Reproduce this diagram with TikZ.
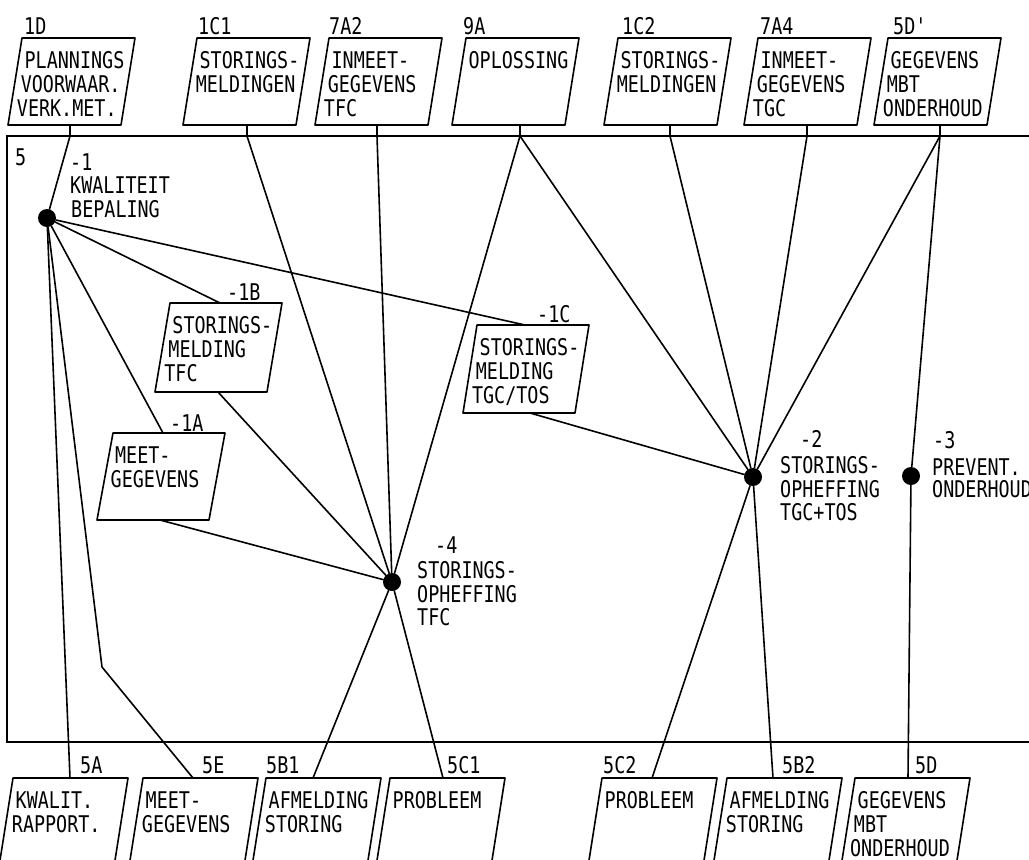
\documentclass[tikz,border=0pt]{standalone}
\usepackage{fontspec}
\newfontfamily\dotfont[FakeStretch=0.8]{DejaVu Sans Mono}
% parallelogram data box: #1 x of top-left corner, #2 y of top edge,
% #3 width, #4 height, #5 slant (top edge shifted right), #6 text lines
\newcommand\databox[6]{%
  \draw[boxline] (#1,#2) -- ++(#3,0) -- ++(-#5,#4) -- ++(-#3,0) -- cycle;
  \foreach \t [count=\i] in {#6} {
    \node[txt] at ({#1 - #5*(22+24*(\i-1))/#4 + 6}, {#2 + 30 + 24*(\i-1)}) {\t};
  }%
}
\begin{document}
\begin{tikzpicture}[x=1pt,y=-1pt,
  wire/.style={line width=1.6pt, line cap=round, line join=round},
  frameline/.style={line width=2.4pt},
  boxline/.style={line width=1.6pt, line join=round},
  dot/.style={circle, fill=black, minimum size=18pt, inner sep=0pt},
  txt/.style={font=\dotfont\fontsize{23}{24}\selectfont, inner sep=0pt, anchor=base west},
  block/.style={txt, align=left, anchor=north west, text depth=0pt},
]
\useasboundingbox (0,0) rectangle (1029,860);
\clip (0,0) rectangle (1029,860);

% ---- frame of diagram 5 ----
\draw[frameline] (1040,136) -- (7,136) -- (7,742) -- (1040,742);
\node[txt] (lab5) at (15,165) {5};

% ---- incoming data (top row) ----
\databox{22}{38}{113}{87}{14}{PLANNINGS,VOORWAAR.,VERK.MET.}
\databox{197}{38}{113}{87}{14}{STORINGS-,MELDINGEN}
\databox{329}{38}{113}{87}{14}{INMEET-,GEGEVENS,TFC}
\databox{466}{38}{113}{87}{14}{OPLOSSING}
\databox{618}{38}{113}{87}{14}{STORINGS-,MELDINGEN}
\databox{758}{38}{113}{87}{14}{INMEET-,GEGEVENS,TGC}
\databox{888}{38}{113}{87}{14}{GEGEVENS,MBT,ONDERHOUD}
\node[txt] (l1D)  at (24,34)  {1D};
\node[txt] (l1C1) at (198,34) {1C1};
\node[txt] (l7A2) at (329,34) {7A2};
\node[txt] (l9A)  at (463,34) {9A};
\node[txt] (l1C2) at (622,34) {1C2};
\node[txt] (l7A4) at (760,34) {7A4};
\node[txt] (l5Dp) at (893,34) {5D\textquotesingle};

% box bottoms and their stems to the frame
\foreach \n/\x in {1D/70, 1C1/247, 7A2/377, 9A/520, 1C2/670, 7A4/807, 5Dp/940} {
  \coordinate (a\n) at (\x,125);
  \coordinate (f\n) at (\x,136);
  \draw[wire] (a\n) -- (f\n);
}

% ---- outgoing data (bottom row) ----
\databox{13}{778}{115}{95}{15}{KWALIT.,RAPPORT.}
\databox{143}{778}{115}{95}{15}{MEET-,GEGEVENS}
\databox{266}{778}{115}{95}{15}{AFMELDING,STORING}
\databox{390}{778}{115}{95}{15}{PROBLEEM}
\databox{602}{778}{115}{95}{15}{PROBLEEM}
\databox{727}{778}{115}{95}{15}{AFMELDING,STORING}
\databox{855}{778}{115}{95}{15}{GEGEVENS,MBT,ONDERHOUD}
\node[txt] (l5A)  at (80,773)  {5A};
\node[txt] (l5E)  at (202,773) {5E};
\node[txt] (l5B1) at (266,773) {5B1};
\node[txt] (l5C1) at (447,773) {5C1};
\node[txt] (l5C2) at (603,773) {5C2};
\node[txt] (l5B2) at (782,773) {5B2};
\node[txt] (l5D)  at (915,773) {5D};
\foreach \n/\x in {5A/70, 5E/193, 5B1/313, 5C1/443, 5C2/652, 5B2/773, 5D/908}
  \coordinate (b\n) at (\x,778);
\coordinate (bend5E) at (102,667);

% ---- internal data stores ----
\databox{170}{303}{112}{89}{15}{STORINGS-,MELDING,TFC}
\databox{477}{325}{112}{88}{14}{STORINGS-,MELDING,TGC/TOS}
\databox{113}{433}{112}{87}{16}{MEET-,GEGEVENS}
\node[txt] (l1B) at (227,300) {-1B};
\node[txt] (l1Cb) at (537,322) {-1C};
\node[txt] (l1Ab) at (170,431) {-1A};
\coordinate (s1Bt) at (220,303);
\coordinate (s1Bb) at (218,392);
\coordinate (s1Ct) at (525,325);
\coordinate (s1Cb) at (530,413);
\coordinate (s1At) at (163,433);
\coordinate (s1Ab) at (160,520);

% ---- processes ----
\node[dot] (p1) at (47,218) {};
\node[dot] (p4) at (392,582) {};
\node[dot] (p2) at (753,477) {};
\node[dot] (p3) at (911,476) {};
\node[txt] (t1a) at (70,170) {-1};
\node[txt] (t1b) at (70,193) {KWALITEIT};
\node[txt] (t1c) at (71,217) {BEPALING};
\node[txt] (t4a) at (435,553) {-4};
\node[txt] (t4b) at (417,578) {STORINGS-};
\node[txt] (t4c) at (417,602) {OPHEFFING};
\node[txt] (t4d) at (417,625) {TFC};
\node[txt] (t2a) at (800,447) {-2};
\node[txt] (t2b) at (780,473) {STORINGS-};
\node[txt] (t2c) at (780,497) {OPHEFFING};
\node[txt] (t2d) at (780,520) {TGC+TOS};
\node[txt] (t3a) at (933,448) {-3};
\node[txt] (t3b) at (932,475) {PREVENT.};
\node[txt] (t3c) at (932,497) {ONDERHOUD};

% ---- data flows ----
\draw[wire] (f1D) -- (p1);
\draw[wire] (f1C1) -- (p4);
\draw[wire] (f7A2) -- (p4);
\draw[wire] (f9A) -- (p4);
\draw[wire] (f9A) -- (p2);
\draw[wire] (f1C2) -- (p2);
\draw[wire] (f7A4) -- (p2);
\draw[wire] (f5Dp) -- (p2);
\draw[wire] (f5Dp) -- (p3);

\draw[wire] (p1) -- (s1Bt);
\draw[wire] (p1) -- (s1Ct);
\draw[wire] (p1) -- (s1At);
\draw[wire] (p1) -- (b5A);
\draw[wire] (p1) -- (bend5E) -- (b5E);

\draw[wire] (s1Bb) -- (p4);
\draw[wire] (s1Ab) -- (p4);
\draw[wire] (s1Cb) -- (p2);

\draw[wire] (p4) -- (b5B1);
\draw[wire] (p4) -- (b5C1);
\draw[wire] (p2) -- (b5C2);
\draw[wire] (p2) -- (b5B2);
\draw[wire] (p3) -- (b5D);
\end{tikzpicture}
\end{document}
